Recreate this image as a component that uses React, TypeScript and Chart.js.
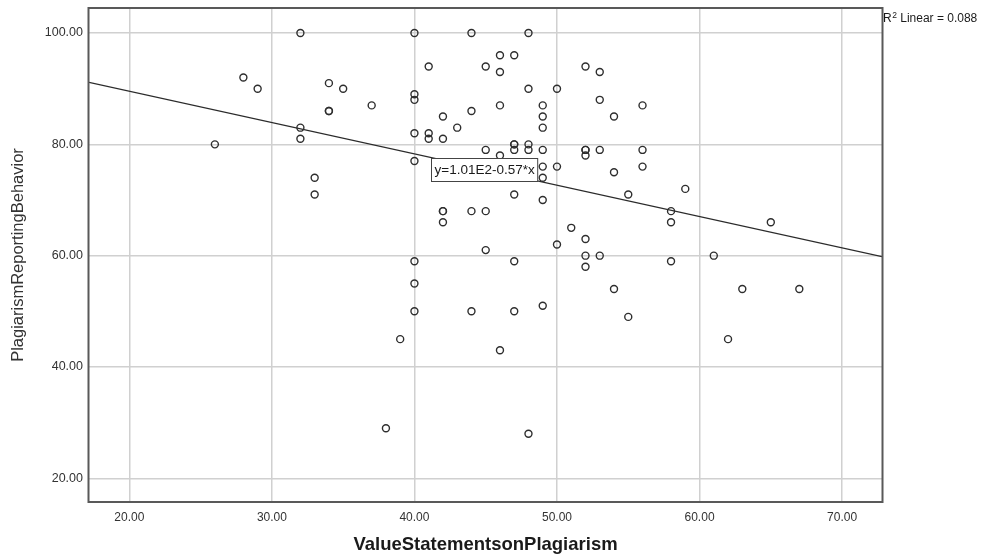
import React, { useEffect, useRef } from "react";
import { Chart, registerables } from "chart.js";

Chart.register(...registerables);

// Scatter data: Value Statements on Plagiarism (x) vs Plagiarism Reporting Behavior (y)
const valueStatements = [
  26, 28, 29, 32, 32, 32, 33, 33, 34, 34, 34, 35, 37, 38, 39,
  40, 40, 40, 40, 40, 40, 40, 40,
  41, 41, 41,
  42, 42, 42, 42, 42,
  43,
  44, 44, 44, 44,
  45, 45, 45, 45,
  46, 46, 46, 46, 46,
  47, 47, 47, 47, 47, 47, 47,
  48, 48, 48, 48, 48,
  49, 49, 49, 49, 49, 49, 49, 49,
  50, 50, 50,
  51,
  52, 52, 52, 52, 52, 52, 52,
  53, 53, 53, 53,
  54, 54, 54,
  55, 55,
  56, 56, 56,
  58, 58, 58,
  59, 61, 62, 63, 65, 67,
];
const reportingBehavior = [
  80, 92, 90, 100, 83, 81, 74, 71, 91, 86, 86, 90, 87, 29, 45,
  100, 89, 88, 82, 77, 59, 55, 50,
  94, 82, 81,
  85, 81, 68, 68, 66,
  83,
  100, 86, 68, 50,
  94, 79, 68, 61,
  96, 93, 87, 78, 43,
  96, 80, 80, 79, 71, 59, 50,
  100, 90, 80, 79, 28,
  87, 85, 83, 79, 76, 74, 70, 51,
  90, 76, 62,
  65,
  94, 79, 79, 78, 63, 60, 58,
  93, 88, 79, 60,
  85, 75, 54,
  71, 49,
  87, 79, 76,
  68, 66, 59,
  72, 60, 45, 54, 66, 54,
];

const xTickValues = [20, 30, 40, 50, 60, 70];
const yTickValues = [20, 40, 60, 80, 100];
const xMin = 17.17;
const xMax = 72.8;
const yMin = 15.74;
const yMax = 104.5;

// Linear fit
const fitIntercept = 100.8;
const fitSlope = -0.563;
const fitEquation = "y=1.01E2-0.57*x";
const rSquared = "0.088";

const xTitle = "ValueStatementsonPlagiarism";
const yTitle = "PlagiarismReportingBehavior";

const FONT = "'Liberation Sans', Arial, sans-serif";
const TEXT = "#333333";

const decorPlugin = {
  id: "spssDecor",
  afterDraw(chart: any) {
    const { ctx, chartArea, scales } = chart;
    const { left, right, top, bottom } = chartArea;
    ctx.save();
    // frame
    ctx.strokeStyle = "#595959";
    ctx.lineWidth = 2;
    ctx.strokeRect(left - 0.5, top, right - left + 1, bottom - top);

    // equation label box
    ctx.font = `13.5px ${FONT}`;
    const tw = ctx.measureText(fitEquation).width;
    const bx = Math.round(scales.x.getPixelForValue(41.15)) + 0.5;
    const by = Math.round(scales.y.getPixelForValue(77.5)) + 0.5;
    const bw = tw + 6;
    const bh = 23;
    ctx.fillStyle = "#ffffff";
    ctx.fillRect(bx, by, bw, bh);
    ctx.strokeStyle = "#444444";
    ctx.lineWidth = 1;
    ctx.strokeRect(bx, by, bw, bh);
    ctx.fillStyle = "#1a1a1a";
    ctx.textBaseline = "middle";
    ctx.textAlign = "left";
    ctx.fillText(fitEquation, bx + 3, by + bh / 2 + 0.5);

    // R² label
    const rx = right + 1;
    const ry = top + 14;
    ctx.fillStyle = "#1a1a1a";
    ctx.textBaseline = "alphabetic";
    ctx.font = `12px ${FONT}`;
    ctx.fillText("R", rx, ry);
    const rw = ctx.measureText("R").width;
    ctx.font = `8.5px ${FONT}`;
    ctx.fillText("2", rx + rw + 0.5, ry - 4.5);
    const sw = ctx.measureText("2").width;
    ctx.font = `12px ${FONT}`;
    ctx.fillText(" Linear = " + rSquared, rx + rw + sw + 0.5, ry);
    ctx.restore();
  },
};

export default function App() {
  const canvasRef = useRef<HTMLCanvasElement | null>(null);

  useEffect(() => {
    document.body.style.margin = "0";
    const canvas = canvasRef.current;
    if (!canvas) return;

    const points = valueStatements.map((x, i) => ({ x, y: reportingBehavior[i] }));
    const fitLine = [xMin, xMax].map((x) => ({ x, y: fitIntercept + fitSlope * x }));

    const chart = new Chart(canvas, {
      type: "scatter",
      data: {
        datasets: [
          {
            type: "line",
            data: fitLine,
            borderColor: "#2b2b2b",
            borderWidth: 1.2,
            pointRadius: 0,
            fill: false,
            order: 2,
          } as any,
          {
            data: points,
            pointRadius: 3.5,
            pointHoverRadius: 3.5,
            borderWidth: 1.4,
            borderColor: "#2e2e2e",
            backgroundColor: "rgba(0,0,0,0)",
            order: 1,
          },
        ],
      },
      options: {
        animation: false,
        responsive: false,
        events: [],
        layout: { padding: { top: 8, right: 100, bottom: 0, left: 0 } },
        plugins: {
          legend: { display: false },
          tooltip: { enabled: false },
        },
        scales: {
          x: {
            type: "linear",
            min: xMin,
            max: xMax,
            afterBuildTicks: (s: any) => {
              s.ticks = xTickValues.map((v) => ({ value: v }));
            },
            afterFit: (s: any) => {
              s.height = 54;
              s.paddingLeft = 0;
              s.paddingRight = 0;
            },
            grid: { color: "#d0d0d0", lineWidth: 1.5, drawTicks: false },
            border: { display: false },
            ticks: {
              padding: 8,
              color: TEXT,
              font: { family: FONT, size: 12 },
              callback: (v: any) => Number(v).toFixed(2),
            },
            title: {
              display: true,
              text: xTitle,
              color: "#1a1a1a",
              font: { family: FONT, size: 18.5, weight: "bold" },
              padding: { top: 0, bottom: 0 },
            },
          },
          y: {
            type: "linear",
            min: yMin,
            max: yMax,
            afterBuildTicks: (s: any) => {
              s.ticks = yTickValues.map((v) => ({ value: v }));
            },
            afterFit: (s: any) => {
              s.width = 89;
              s.paddingTop = 0;
              s.paddingBottom = 0;
            },
            grid: { color: "#d0d0d0", lineWidth: 1.5, drawTicks: false },
            border: { display: false },
            ticks: {
              padding: 6,
              color: TEXT,
              font: { family: FONT, size: 12.5 },
              callback: (v: any) => Number(v).toFixed(2),
            },
            title: {
              display: true,
              text: yTitle,
              color: TEXT,
              font: { family: FONT, size: 16.5 },
              padding: { top: 9, bottom: 0 },
            },
          },
        },
      },
      plugins: [decorPlugin],
    } as any);

    return () => chart.destroy();
  }, []);

  return (
    <div style={{ width: 982, height: 556, position: "relative" }}>
      <canvas ref={canvasRef} width={982} height={556} style={{ display: "block" }} />
    </div>
  );
}
